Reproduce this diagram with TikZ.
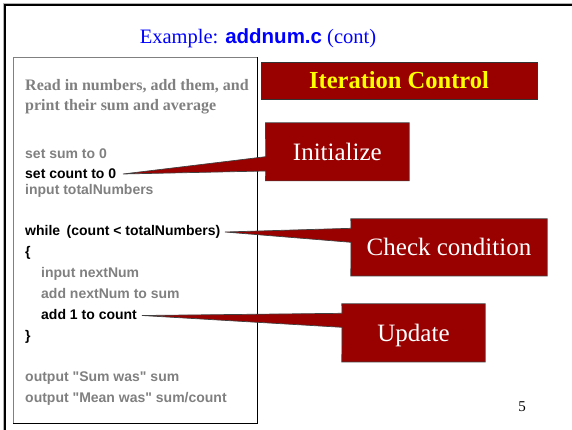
\documentclass[tikz,border=0pt]{standalone}
\usepackage{fontspec}
\setmainfont{Liberation Serif}
\newfontfamily\arialfont{Liberation Sans}
\usetikzlibrary{backgrounds}
\definecolor{slidered}{RGB}{153,0,0}
\definecolor{codegray}{RGB}{128,128,128}
\definecolor{titleblue}{RGB}{0,0,255}
\definecolor{hiyellow}{RGB}{255,255,0}
\begin{document}
\begin{tikzpicture}[x=1pt,y=-1pt,
  codeln/.style={anchor=base west, inner sep=0pt, font=\arialfont\bfseries\fontsize{14}{16}\selectfont},
  dim/.style={text=codegray},
  hot/.style={text=black},
  headln/.style={anchor=base west, inner sep=0pt, text=codegray, font=\bfseries\fontsize{16}{18}\selectfont},
  callbox/.style={inner sep=0pt, text=white, font=\fontsize{25}{28}\selectfont, text height=16.5pt, text depth=0pt},
  callshape/.style={fill=slidered, draw=black!75, line width=0.7pt, line join=miter}
]
\useasboundingbox (0,0) rectangle (572,430);

% slide frame
\draw[codegray!60, line width=1pt] (3.2,430) -- (3.2,3.2) -- (572,3.2);
\draw[black, line width=2.2pt] (5,430) -- (5,5.2) -- (572,5.2);

% title
\node[anchor=base, inner sep=0pt, text=titleblue, font=\fontsize{20.5}{24}\selectfont] (title) at (258,43.3)
  {Example: {\arialfont\bfseries addnum.c} (cont)};

% pseudocode panel
\node[minimum width=243.5pt, minimum height=365.5pt, inner sep=0pt] (codebox) at (135.25,240.25) {};

\node[headln] (h1) at (25,91) {Read in numbers, add them, and};
\node[headln] (h2) at (25,110.5) {print their sum and average};
\node[codeln,dim] (c1) at (25,159) {set sum to 0};
\node[codeln,hot] (c2) at (25,178.5) {set count to 0};
\node[codeln,dim] (c3) at (25,195) {input totalNumbers};
\node[codeln,hot] (c4) at (25,236) {while\hspace{6.5pt}(count < totalNumbers)};
\node[codeln,hot] (c5) at (25,256) {\{};
\node[codeln,dim] (c6) at (41,277) {input nextNum};
\node[codeln,dim] (c7) at (41,298) {add nextNum to sum};
\node[codeln,hot] (c8) at (41,319) {add 1 to count};
\node[codeln,hot] (c9) at (25,340) {\}};
\node[codeln,dim] (c10) at (25,381) {output "Sum was" sum};
\node[codeln,dim] (c11) at (25,402) {output "Mean was" sum/count};

% heading box
\node[fill=slidered, draw=black!80, line width=0.8pt, inner sep=0pt,
      minimum width=276pt, minimum height=37pt, text=hiyellow,
      font=\bfseries\fontsize{24.5}{28}\selectfont, text height=16pt, text depth=0pt]
  (iter) at (399,80.5) {Iteration Control};

% callout boxes
\node[callbox, minimum width=143.3pt, minimum height=57.7pt] (init) at (337.35,151.85) {Initialize};
\node[callbox, minimum width=196pt, minimum height=56.7pt] (check) at (449,247.35) {Check condition};
\node[callbox, minimum width=143pt, minimum height=57.7pt] (upd) at (413.5,332.85) {Update};

% callout pointer ends
\coordinate (tipA) at (123,174);
\coordinate (initA) at (265.7,156.7);
\coordinate (initB) at (265.7,171);
\coordinate (tipB) at (225,232);
\coordinate (checkA) at (351,228.3);
\coordinate (checkB) at (351,242.3);
\coordinate (tipC) at (142,315.5);
\coordinate (updA) at (342,313.3);
\coordinate (updB) at (342,327.3);

\begin{scope}[on background layer]
  \draw[codegray, line width=1.2pt] (codebox.south west) -- (codebox.north west) -- (codebox.north east);
  \draw[line width=1pt] (codebox.north east) -- (codebox.south east) -- (codebox.south west);
  \path[callshape] (init.north west) -- (initA) -- (tipA) -- (initB) -- (init.south west)
    -- (init.south east) -- (init.north east) -- cycle;
  \path[callshape] (check.north west) -- (checkA) -- (tipB) -- (checkB) -- (check.south west)
    -- (check.south east) -- (check.north east) -- cycle;
  \path[callshape] (upd.north west) -- (updA) -- (tipC) -- (updB) -- (upd.south west)
    -- (upd.south east) -- (upd.north east) -- cycle;
\end{scope}

% page number
\node[anchor=base, inner sep=0pt, font=\fontsize{15}{18}\selectfont] (pg) at (522,411) {5};
\end{tikzpicture}
\end{document}
